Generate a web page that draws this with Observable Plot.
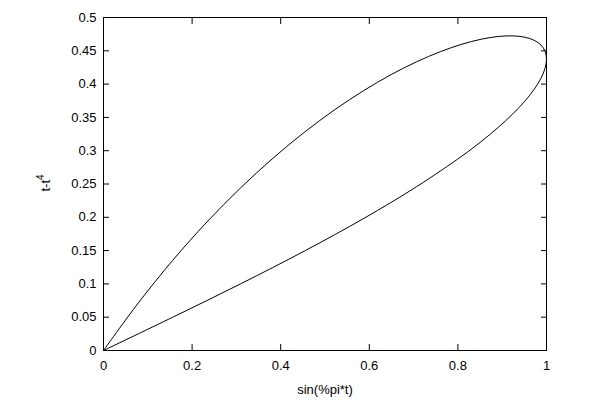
<!DOCTYPE html>
<html><head><meta charset="utf-8">
<script src="https://cdn.jsdelivr.net/npm/d3@7"></script>
<script src="https://cdn.jsdelivr.net/npm/@observablehq/plot@0.6"></script>
<style>body{margin:0;background:#fff;} svg{font-family:"Liberation Sans",Arial,sans-serif;}</style>
</head><body><div id="chart"></div>
<script>
const xs = [0, 0.1564, 0.3090, 0.4540, 0.5878, 0.7071, 0.8090, 0.8526, 0.8910, 0.9239, 0.9511, 0.9724, 0.9877, 0.9969, 1.0000, 0.9969, 0.9877, 0.9724, 0.9511, 0.9239, 0.8910, 0.8526, 0.8090, 0.7604, 0.7071, 0.6494, 0.5878, 0.5225, 0.4540, 0.3827, 0.3090, 0.2334, 0.1564, 0.0785, 0];
const ys = [0, 0.0500, 0.0999, 0.1495, 0.1984, 0.2461, 0.2919, 0.3138, 0.3350, 0.3552, 0.3744, 0.3924, 0.4090, 0.4241, 0.4375, 0.4490, 0.4585, 0.4657, 0.4704, 0.4724, 0.4715, 0.4674, 0.4599, 0.4487, 0.4336, 0.4143, 0.3904, 0.3618, 0.3280, 0.2888, 0.2439, 0.1929, 0.1355, 0.0713, 0];
const xTicks = [0, 0.2, 0.4, 0.6, 0.8, 1];
const yTicks = [0, 0.05, 0.1, 0.15, 0.2, 0.25, 0.3, 0.35, 0.4, 0.45, 0.5];
const xLabel = "sin(%pi*t)";
const yLabelBase = "t-t";
const yLabelSup = "4";

const pts = xs.map((x, i) => ({x, y: ys[i]}));
const fmt = d => String(+d.toFixed(2));

const plot = Plot.plot({
  width: 600, height: 400,
  marginLeft: 103, marginRight: 54, marginTop: 17, marginBottom: 50,
  style: {fontSize: "13px", fontFamily: "Liberation Sans, Arial, sans-serif", color: "#000", background: "#fff"},
  x: {domain: [0, 1], ticks: xTicks},
  y: {domain: [0, 0.5], ticks: yTicks},
  marks: [
    Plot.axisX({anchor: "bottom", ticks: xTicks, tickSize: -6, tickPadding: 16, tickFormat: fmt, label: null, stroke: "#000", fill: "#000"}),
    Plot.axisX({anchor: "top", ticks: xTicks, tickSize: -6, tickFormat: () => "", label: null, stroke: "#000"}),
    Plot.axisY({anchor: "left", ticks: yTicks, tickSize: -6, tickPadding: 13, tickFormat: fmt, label: null, stroke: "#000", fill: "#000"}),
    Plot.axisY({anchor: "right", ticks: yTicks, tickSize: -6, tickFormat: () => "", label: null, stroke: "#000"}),
    Plot.frame({stroke: "#000", strokeWidth: 1}),
    Plot.line(pts, {x: "x", y: "y", stroke: "#000", strokeWidth: 1, curve: "catmull-rom"})
  ]
});
document.getElementById("chart").appendChild(plot);

const svg = d3.select(plot);
svg.append("text").attr("x", 325).attr("y", 394).attr("text-anchor", "middle")
  .attr("font-size", 13).attr("fill", "#000").text(xLabel);
const yl = svg.append("text").attr("transform", "translate(50,183) rotate(-90)")
  .attr("text-anchor", "middle").attr("font-size", 13).attr("fill", "#000");
yl.append("tspan").text(yLabelBase);
yl.append("tspan").attr("dy", -6).attr("font-size", 10).text(yLabelSup);
</script></body></html>
